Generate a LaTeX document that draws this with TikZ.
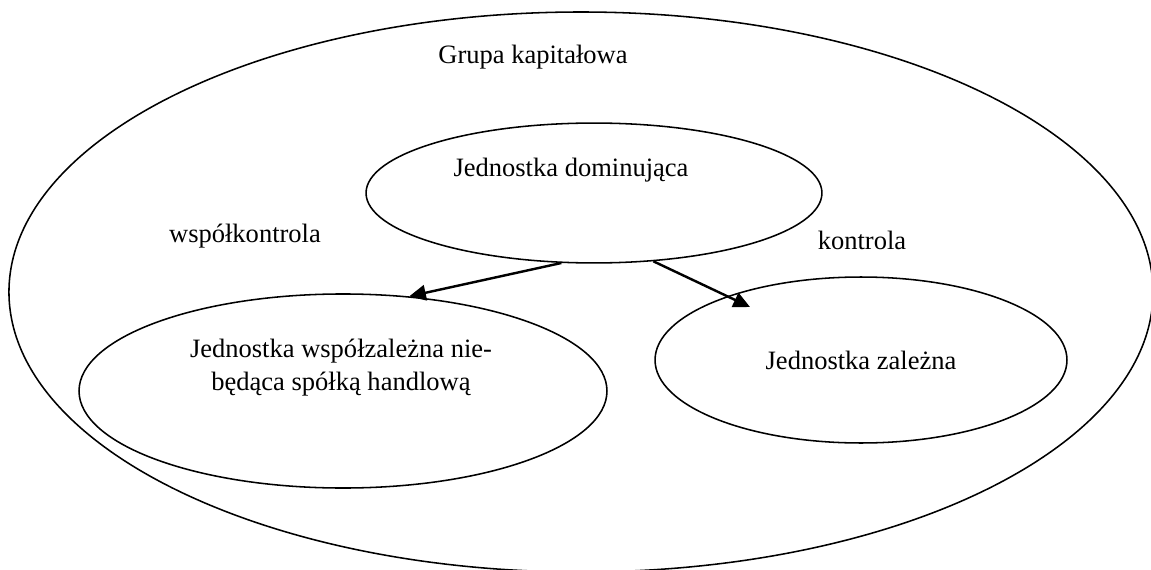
\documentclass[tikz,border=0pt]{standalone}
\usepackage{fontspec}
\setmainfont{Liberation Serif}
\usetikzlibrary{shapes,arrows.meta,positioning,calc}
\tikzset{
group/.style = {draw, ellipse, line width=0.7pt, inner sep=0pt, minimum width=517.7pt, minimum height=253.4pt},
unit/.style = {draw, ellipse, line width=0.7pt, inner sep=0pt},
txt/.style = {inner sep=0pt, align=center, font=\fontsize{12}{15}\selectfont},
link/.style = {line width=1.1pt, -{Triangle[length=7.5pt,width=7pt]}}
}
\begin{document}
\begin{tikzpicture}[x=0.4525pt, y=-0.4525pt]
\useasboundingbox (0,0) rectangle (1151,570);

                \node [group] (grupa) at (581,292) {};
                \node [unit, minimum width=206.3pt, minimum height=63.3pt] (dom) at (594,193) {};
                \node [unit, minimum width=238.9pt, minimum height=87.8pt] (jv) at (343,391) {};
                \node [unit, minimum width=186.4pt, minimum height=75.1pt] (jz) at (861,360) {};

                \node [txt] (tgrupa) at (533,57) {Grupa kapitałowa};
                \node [txt] (tdom) at ($(dom)+(-23,-23)$) {Jednostka dominująca};
                \node [txt] (tjv) at ($(jv)+(-2,-23)$) {Jednostka współzależna nie-\\będąca spółką handlową};
                \node [txt] (tjz) at (jz) {Jednostka zależna};
                \node [txt] (wspol) at (245,236) {współkontrola};
                \node [txt] (kontr) at (862,240) {kontrola};

                \coordinate (ztip) at ($(jz)+(-111,-53)$);
                \draw [link] (dom.245) -- (jv.55);
                \draw [link] (dom.311) -- (ztip);
\end{tikzpicture}
\end{document}
